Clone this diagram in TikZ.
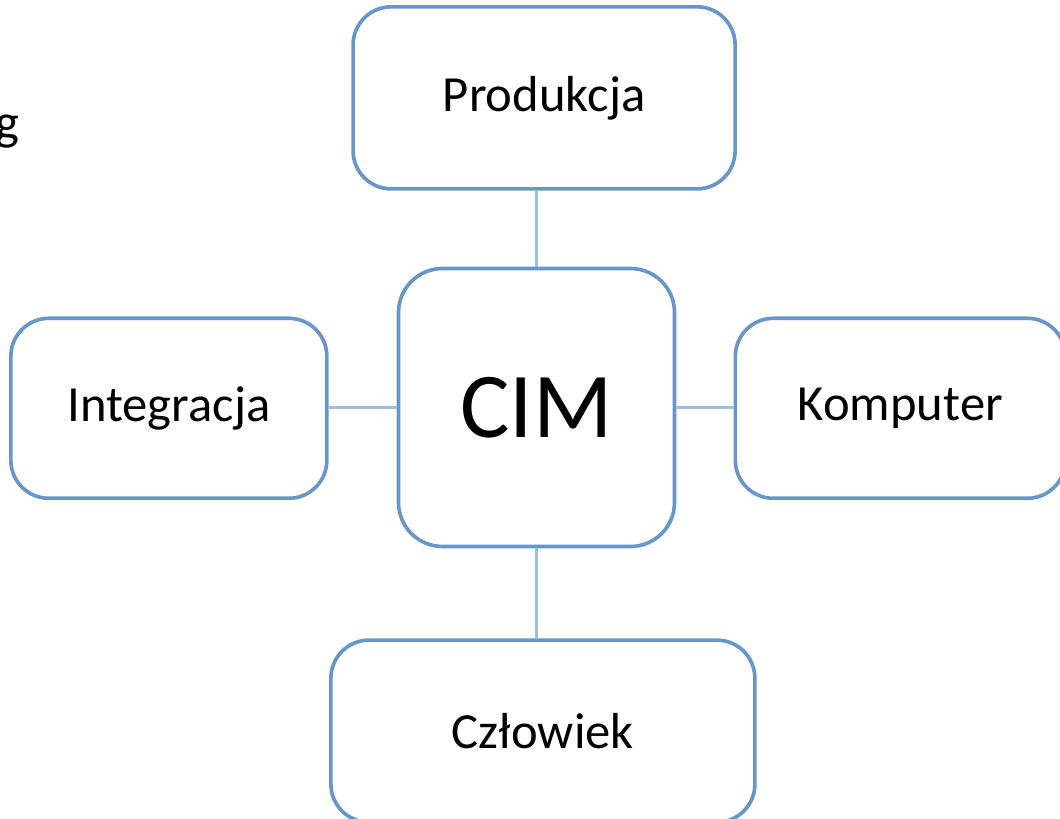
\documentclass[tikz,border=0pt]{standalone}
\usepackage{fontspec}
\setmainfont{Carlito}
\usetikzlibrary{positioning}
\definecolor{boxblue}{RGB}{104,150,203}
\definecolor{linkblue}{RGB}{160,190,222}

\begin{document}
\begin{tikzpicture}[
    topic/.style={rectangle, draw=boxblue, line width=2.6pt, rounded corners=0.95cm,
                  fill=white, inner sep=0pt, font=\fontsize{36}{40}\selectfont},
    core/.style={topic, minimum width=6.9cm, minimum height=6.95cm, rounded corners=1.1cm,
                 font=\fontsize{66}{70}\selectfont},
    link/.style={draw=linkblue, line width=2.8pt}
]
\useasboundingbox (0,0) rectangle (26.5,-20.475);

% srodek
\node[core] (cim) at (13.4125,-10.1875) {CIM};

% cztery pola dookola
\node[topic, minimum width=9.55cm, minimum height=4.55cm,
      above=1.9cm of cim, xshift=0.19cm] (prod) {Produkcja};
\node[topic, minimum width=7.9cm, minimum height=4.5cm,
      left=1.7cm of cim, yshift=-0.02cm] (integr) {Integracja};
\node[topic, minimum width=8.25cm, minimum height=4.5cm,
      right=1.43cm of cim, yshift=-0.02cm] (komp) {Komputer};
\node[topic, minimum width=10.6cm, minimum height=4.55cm,
      below=2.25cm of cim, xshift=0.16cm] (czlow) {Człowiek};

% ucięta litera przy lewej krawędzi
\node[anchor=base east, inner sep=0pt, font=\fontsize{36}{40}\selectfont] (gfrag) at (0.5,-3.5) {g};

% polaczenia
\draw[link] (cim.north) -- (cim.north |- prod.south);
\draw[link] (cim.south) -- (cim.south |- czlow.north);
\draw[link] (cim.west) -- (cim.west -| integr.east);
\draw[link] (cim.east) -- (cim.east -| komp.west);

\end{tikzpicture}
\end{document}
